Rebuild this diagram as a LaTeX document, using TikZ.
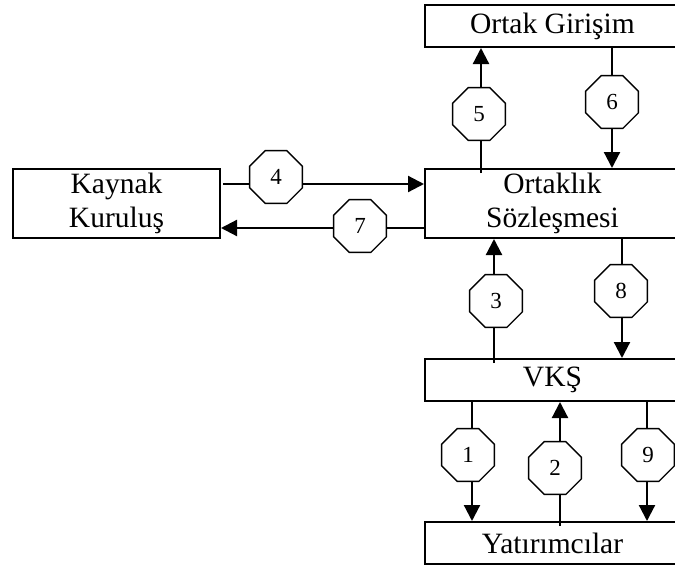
\documentclass[tikz,border=0pt]{standalone}
\usepackage{fontspec}
\setmainfont{Liberation Serif}
\usetikzlibrary{shapes.geometric,arrows.meta}
\begin{document}
\begin{tikzpicture}[x=1pt,y=-1pt,
  box/.style={draw,line width=2pt,rectangle,inner sep=0pt,align=center,
    font=\fontsize{29.5}{34}\selectfont},
  octo/.style={draw,fill=white,regular polygon,regular polygon sides=8,
    minimum size=57pt,inner sep=0pt,line width=1.4pt,
    font=\fontsize{23}{26}\selectfont},
  arr/.style={line width=2.2pt,-{Triangle[length=16pt,width=16pt]}},
  into/.style={shorten <=-5pt}
]
\useasboundingbox (0,0) rectangle (675,568);
\begin{scope}
\clip (0,0) rectangle (675,568);
\node[box,minimum width=255pt,minimum height=42pt] (og) at (552.5,26) {Ortak Girişim};
\node[box,minimum width=255pt,minimum height=69pt] (os) at (552.5,203.5) {Ortaklık\\Sözleşmesi};
\node[box,minimum width=207pt,minimum height=69pt] (kk) at (116.5,203.5) {Kaynak\\Kuruluş};
\node[box,minimum width=255pt,minimum height=42pt] (vk) at (552.5,380) {VKŞ};
\node[box,minimum width=255pt,minimum height=42pt] (ya) at (552.5,543) {Yatırımcılar};

\coordinate (x5) at (481,0);
\coordinate (x6) at (612,0);
\coordinate (x3) at (494,0);
\coordinate (x8) at (622,0);
\coordinate (x1) at (472,0);
\coordinate (x2) at (560,0);
\coordinate (x9) at (647,0);
\coordinate (y4) at (0,184);
\coordinate (y7) at (0,228);

\draw[arr,into] (os.north -| x5) -- (og.south -| x5);
\draw[arr] (og.south -| x6) -- (os.north -| x6);
\draw[arr,shorten <=2pt] (kk.east |- y4) -- (os.west |- y4);
\draw[arr] (os.west |- y7) -- (kk.east |- y7);
\draw[arr,into] (vk.north -| x3) -- (os.south -| x3);
\draw[arr] (os.south -| x8) -- (vk.north -| x8);
\draw[arr] (vk.south -| x1) -- (ya.north -| x1);
\draw[arr,into] (ya.north -| x2) -- (vk.south -| x2);
\draw[arr] (vk.south -| x9) -- (ya.north -| x9);

\node[octo] (n5) at (479,114) {5};
\node[octo] (n6) at (612,102) {6};
\node[octo] (n4) at (276,177) {4};
\node[octo] (n7) at (360,226) {7};
\node[octo] (n3) at (496,301) {3};
\node[octo] (n8) at (621,291) {8};
\node[octo] (n1) at (468,455) {1};
\node[octo] (n2) at (555,468) {2};
\node[octo] (n9) at (648,455) {9};
\end{scope}
\end{tikzpicture}
\end{document}
